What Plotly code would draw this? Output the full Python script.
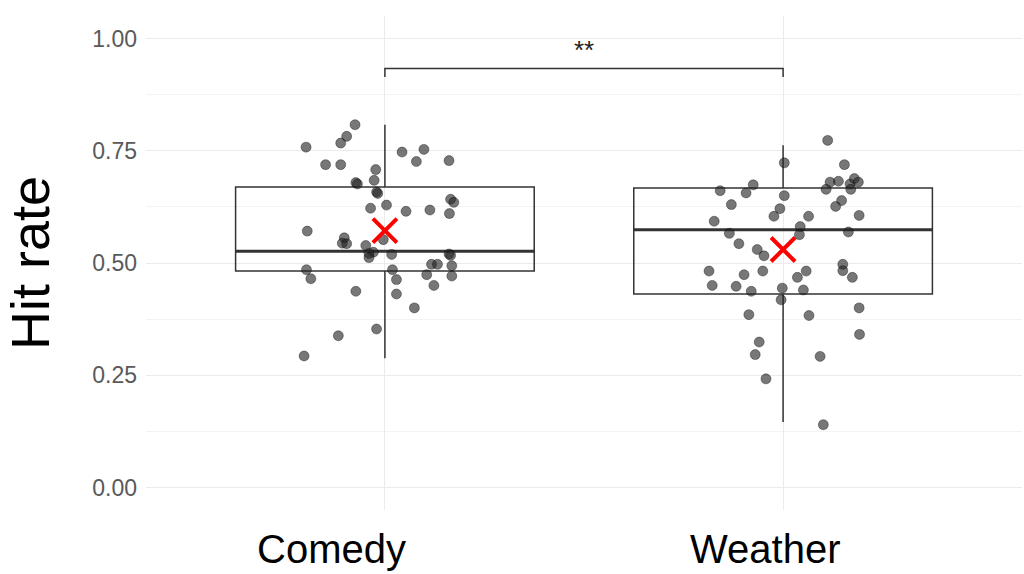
import plotly.graph_objects as go

# categories and their positions on the x axis
categories = ["Comedy", "Weather"]
cat_pos = [1, 2]
# the category labels sit a little left of their boxes in the original
label_x = [0.867, 1.955]

# box summary per category
q1 = [0.482, 0.431]
median = [0.526, 0.574]
q3 = [0.669, 0.667]
lower_whisker = [0.288, 0.146]
upper_whisker = [0.808, 0.762]

# mean hit rate per category (red crosses)
mean_rate = [0.572, 0.530]

# jittered points: offset from category centre, hit rate
comedy_jitter = [-0.075, -0.096, -0.111, -0.198, 0.043, 0.098, -0.149, -0.111, 0.079, 0.161,
                 -0.023, -0.027, -0.073, -0.069, -0.021, -0.018, 0.165, 0.173, -0.036, 0.004,
                 0.053, 0.113, 0.162, -0.195, -0.102, -0.107, -0.096, -0.048, -0.004, -0.029,
                 -0.040, -0.040, 0.017, 0.161, 0.165, 0.117, 0.132, 0.168, -0.197, -0.186,
                 0.019, 0.029, 0.105, 0.168, 0.123, -0.073, 0.029, 0.074, -0.021, -0.117,
                 -0.203]
comedy_rate = [0.808, 0.782, 0.767, 0.758, 0.747, 0.753, 0.719, 0.719, 0.726, 0.728,
               0.708, 0.684, 0.679, 0.676, 0.658, 0.655, 0.642, 0.635, 0.622, 0.629,
               0.615, 0.618, 0.610, 0.571, 0.556, 0.544, 0.543, 0.539, 0.552, 0.524,
               0.521, 0.512, 0.519, 0.520, 0.517, 0.497, 0.497, 0.494, 0.485, 0.465,
               0.485, 0.463, 0.474, 0.471, 0.450, 0.437, 0.431, 0.400, 0.353, 0.338,
               0.293]

weather_jitter = [0.112, 0.003, 0.154, -0.158, -0.093, -0.075, 0.003, 0.108, 0.118, 0.139,
                  0.168, 0.179, 0.189, 0.170, -0.130, 0.147, 0.132, -0.008, -0.023, 0.064,
                  0.191, -0.173, 0.043, 0.041, -0.135, 0.164, -0.111, -0.065, -0.048, -0.186,
                  -0.098, -0.051, 0.058, 0.036, 0.150, 0.150, 0.174, -0.178, -0.118, -0.080,
                  -0.002, -0.005, 0.051, -0.086, 0.065, 0.191, 0.192, -0.060, -0.070, 0.093,
                  -0.043, 0.101]
weather_rate = [0.773, 0.723, 0.719, 0.661, 0.656, 0.674, 0.650, 0.664, 0.680, 0.682,
                0.676, 0.688, 0.680, 0.664, 0.630, 0.639, 0.626, 0.621, 0.604, 0.604,
                0.606, 0.593, 0.581, 0.563, 0.566, 0.569, 0.543, 0.530, 0.516, 0.482,
                0.474, 0.482, 0.482, 0.468, 0.497, 0.483, 0.468, 0.450, 0.448, 0.437,
                0.444, 0.418, 0.440, 0.385, 0.383, 0.400, 0.341, 0.324, 0.296, 0.292,
                0.242, 0.140]

# significance bracket
bracket_top = 0.933
bracket_bottom = 0.914
sig_label = "**"

y_ticks = [0, 0.25, 0.5, 0.75, 1.0]
y_ticktext = ["0.00", "0.25", "0.50", "0.75", "1.00"]

box_width = 0.75
line_col = "#333333"

fig = go.Figure()

# boxes from the precomputed summaries
fig.add_trace(go.Box(
    x=cat_pos, q1=q1, median=median, q3=q3,
    lowerfence=lower_whisker, upperfence=upper_whisker,
    width=box_width, boxpoints=False,
    fillcolor="rgba(255,255,255,0)",
    line=dict(color=line_col, width=1.5),
    whiskerwidth=0, showlegend=False, hoverinfo="skip"
))

# thicker median lines like ggplot
for pos, med in zip(cat_pos, median):
    fig.add_trace(go.Scatter(
        x=[pos - box_width / 2, pos + box_width / 2], y=[med, med],
        mode="lines", line=dict(color=line_col, width=3),
        showlegend=False, hoverinfo="skip"
    ))

# jittered points
for pos, jit, rate in [(cat_pos[0], comedy_jitter, comedy_rate),
                       (cat_pos[1], weather_jitter, weather_rate)]:
    fig.add_trace(go.Scatter(
        x=[pos + j for j in jit], y=rate, mode="markers",
        marker=dict(size=10, color="rgba(35,35,35,0.62)",
                    line=dict(width=1, color="rgba(0,0,0,0.35)")),
        showlegend=False
    ))

# means
fig.add_trace(go.Scatter(
    x=cat_pos, y=mean_rate, mode="markers",
    marker=dict(symbol="x-thin", size=24, line=dict(width=4, color="#ff0000")),
    showlegend=False
))

# significance bracket
fig.add_trace(go.Scatter(
    x=[cat_pos[0], cat_pos[0], cat_pos[1], cat_pos[1]],
    y=[bracket_bottom, bracket_top, bracket_top, bracket_bottom],
    mode="lines", line=dict(color=line_col, width=1.5),
    showlegend=False, hoverinfo="skip"
))
fig.add_annotation(
    x=sum(cat_pos) / 2, y=bracket_top, text=sig_label, showarrow=False,
    yanchor="bottom", yshift=2, font=dict(size=26, color="#222222")
)

# category labels
for lx, name in zip(label_x, categories):
    fig.add_annotation(
        x=lx, xref="x", y=-0.079, yref="paper", text=name, showarrow=False,
        xanchor="center", yanchor="middle", borderpad=0,
        font=dict(size=40, color="black")
    )

fig.update_layout(
    width=1024, height=574,
    margin=dict(l=146, r=2, t=16, b=64),
    plot_bgcolor="white", paper_bgcolor="white",
    font=dict(family="Liberation Sans, Arial, sans-serif"),
    showlegend=False
)

fig.update_xaxes(
    range=[0.4, 2.6], tickvals=cat_pos, showticklabels=False,
    showgrid=True, gridcolor="#ebebeb", gridwidth=1,
    zeroline=False, showline=False, ticks="", automargin=False
)
fig.update_yaxes(
    range=[-0.05, 1.05], tickvals=y_ticks, ticktext=y_ticktext,
    tickfont=dict(size=23, color="#595959"), ticklabelstandoff=8,
    title=dict(text="Hit rate", font=dict(size=54, color="black"), standoff=30),
    showgrid=True, gridcolor="#ebebeb", gridwidth=1.2,
    minor=dict(tickvals=[0.125, 0.375, 0.625, 0.875], showgrid=True,
               gridcolor="#f3f3f3", gridwidth=1),
    zeroline=False, showline=False, ticks="", automargin=False
)

# page has a default body margin; drop it so the figure sits at the corner
fig.write_html("out.html", config={"displayModeBar": False},
               post_script="document.body.style.margin='0px';")
